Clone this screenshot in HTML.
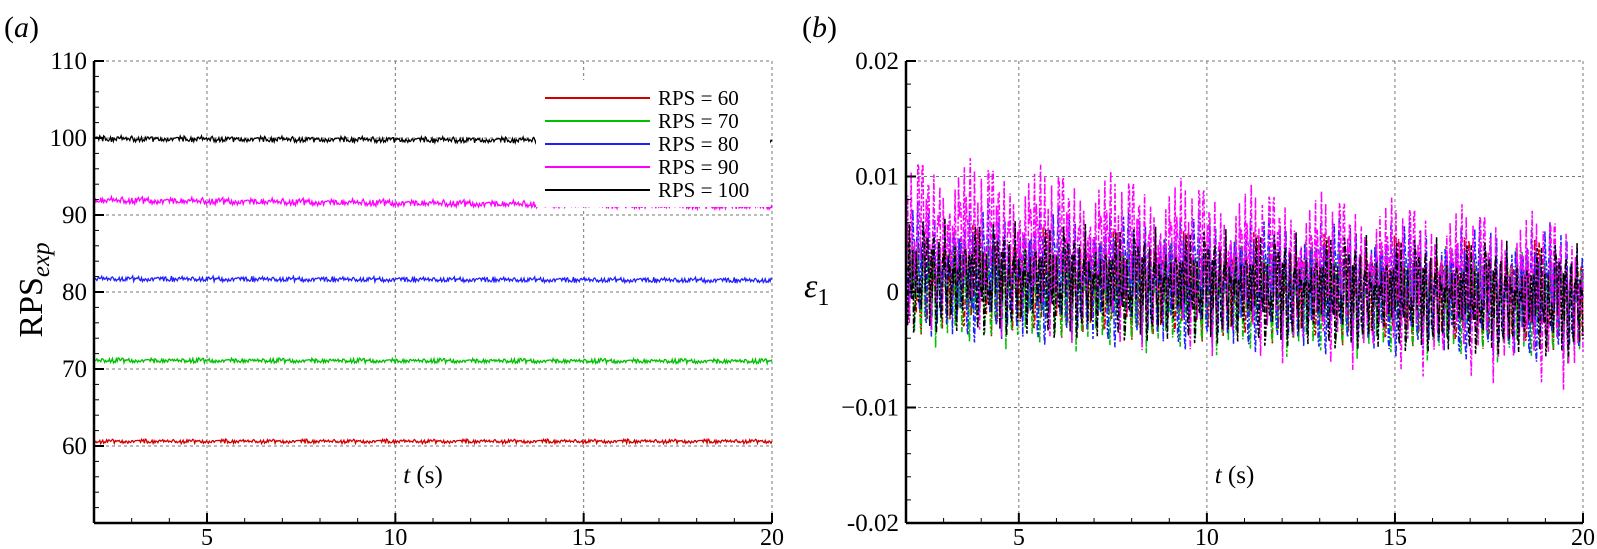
<!DOCTYPE html>
<html><head><meta charset="utf-8"><style>
body{margin:0;background:#fff;}
svg{display:block;}
svg text{font-family:"Liberation Serif","Times New Roman",serif;}
</style></head><body>
<svg id="c" width="1597" height="549" font-family="Liberation Serif, serif"></svg>
<script>
const tTicks=[5,10,15,20];
const leftYTicks=[60,70,80,90,100,110];
const rightYTicks=[-0.02,-0.01,0,0.01,0.02];
const rightYLabels=["-0.02","\u22120.01","0","0.01","0.02"];
const rpsNames=["RPS = 60","RPS = 70","RPS = 80","RPS = 90","RPS = 100"];
const colors=["#d00000","#00c000","#2020ff","#ff00ff","#000000"];
const rpsStart=[60.6,71.1,81.7,91.9,99.9];
const rpsEnd=[60.6,71.0,81.5,91.1,99.6];
const rpsAmp=[0.35,0.4,0.45,0.6,0.5];
const epsStart=[0.001,0.0005,0.0015,0.0045,0.0012];
const epsEnd=[-0.0005,-0.001,-0.0005,-0.001,-0.001];
const epsAmp=[0.0045,0.0045,0.0055,0.0065,0.0045];
const noise=[0.3,-0.8,0.5,0.1,-0.4,0.9,-0.2,-0.7,0.6,0.2,-0.5,0.8,-0.9,0.4,0.0,-0.3,0.7,-0.6,0.2,0.5,-0.1,-0.8,0.9,-0.4,0.3,0.6,-0.7,0.1,-0.2,0.8,-0.5,0.4,-0.9,0.2,0.7,-0.3,0.0,0.5,-0.6,0.9,-0.1,-0.4,0.6,0.3,-0.8,0.1,0.7,-0.5,0.2,-0.9,0.8,-0.2,0.4,-0.6,0.5,0.0,-0.3,0.9,-0.7,0.3,-0.1,0.6,-0.4,0.8,-0.8,0.2,0.5,-0.5,0.1,0.7,-0.9,0.4,-0.2,0.6,-0.6,0.3,0.9,-0.3,0.0,-0.7,0.45,-0.25,0.85];
const NS="http://www.w3.org/2000/svg";
const svg=document.getElementById('c');
function el(tag,attrs,parent){const e=document.createElementNS(NS,tag);for(const k in attrs)e.setAttribute(k,attrs[k]);if(tag==='text')e.setAttribute('font-family','Liberation Serif, serif');(parent||svg).appendChild(e);return e;}
const T0=2,T1=20,TOP=61,BOT=523;
function panel(L,R,ymin,ymax,yTicks,name){
  const g=el('g',{});
  
  
  const xs=t=>L+(t-T0)/(T1-T0)*(R-L);
  const ys=v=>BOT-(v-ymin)/(ymax-ymin)*(BOT-TOP);
  tTicks.forEach(t=>{const l=el('line',{x1:xs(t),x2:xs(t),y1:TOP,y2:BOT,stroke:'#777','stroke-width':1,'stroke-dasharray':'3,3'},g);});
  yTicks.forEach(v=>{const l=el('line',{x1:L,x2:R,y1:ys(v),y2:ys(v),stroke:'#777','stroke-width':1,'stroke-dasharray':'3,3'},g);});
  return {g,xs,ys};
}
function axes(p,L,R,ymin,ymax,yTicks,yLabels,minorY){
  const g=p.g;
  el('line',{x1:L,x2:L,y1:TOP,y2:BOT,stroke:'#000','stroke-width':2.5},g);
  el('line',{x1:L,x2:R,y1:BOT,y2:BOT,stroke:'#000','stroke-width':2.5},g);
  for(let t=3;t<=20;t++){const major=t%5==0;el('line',{x1:p.xs(t),x2:p.xs(t),y1:BOT,y2:BOT-(major?10:5),stroke:'#000','stroke-width':major?2:1},g);}
  for(let v=ymin+minorY;v<=ymax+1e-9;v+=minorY){const major=yTicks.some(y=>Math.abs(y-v)<minorY/10);el('line',{x1:L,x2:L+(major?10:5),y1:p.ys(v),y2:p.ys(v),stroke:'#000','stroke-width':major?2:1},g);}
  tTicks.forEach(t=>{const s=el('text',{x:p.xs(t),y:BOT+22,'font-size':24,'text-anchor':'middle'},g);s.textContent=t;});
  yTicks.forEach((v,i)=>{const s=el('text',{x:L-7,y:p.ys(v)+8,'font-size':25,'text-anchor':'end'},g);s.textContent=yLabels[i];});
  const xt=el('text',{x:(L+R)/2-10,y:483,'font-size':25,'text-anchor':'middle'},g);
  xt.innerHTML='<tspan font-style="italic">t</tspan> (s)';
  
  
}
// Panel a
const LA=94,RA=772;
const pa=panel(LA,RA,50,110,leftYTicks,'panel-a');
const NPTS=700;
rpsStart.forEach((s,i)=>{
  let d='';
  for(let k=0;k<=NPTS;k++){
    const t=T0+(T1-T0)*k/NPTS;
    const v=s+(rpsEnd[i]-s)*k/NPTS+rpsAmp[i]*noise[(k*7+i*13)%noise.length]*(0.5+0.5*Math.abs(noise[(k*3+i)%noise.length]));
    d+=(k?'L':'M')+pa.xs(t).toFixed(1)+','+pa.ys(v).toFixed(1);
  }
  const p=el('path',{d:d,fill:'none',stroke:colors[i],'stroke-width':1.3},pa.g);
  
  
});
const lg=el('g',{},pa.g);


el('rect',{x:536,y:80,width:234,height:127,fill:'#fff'},lg);
rpsNames.forEach((n,i)=>{
  const y=98+i*23;
  const ln=el('line',{x1:545,x2:650,y1:y,y2:y,stroke:colors[i],'stroke-width':2},lg);
  
  
  const tx=el('text',{x:658,y:y+7,'font-size':21},lg);
  tx.textContent=n;
  
  
});
axes(pa,LA,RA,50,110,leftYTicks,leftYTicks.map(String),2);
const ya=el('text',{x:42,y:290,'font-size':34,'text-anchor':'middle',transform:'rotate(-90 42 290)'});
ya.innerHTML='RPS<tspan font-style="italic" font-size="25" dy="7">exp</tspan>';


const la=el('text',{x:4,y:37,'font-size':30});
la.innerHTML='(<tspan font-style="italic">a</tspan>)';


// Panel b
const LB=906,RB=1583;
const pb=panel(LB,RB,-0.02,0.02,rightYTicks,'panel-b');
const NB=800;
epsStart.forEach((s,i)=>{
  let d='';
  for(let k=0;k<=NB;k++){
    const t=T0+(T1-T0)*k/NB;
    const n=noise[(k*11+i*17)%noise.length];
    const sp=n*Math.abs(noise[(k*5+i*3)%noise.length])*1.3;
    const v=s+(epsEnd[i]-s)*k/NB+epsAmp[i]*(0.6*n+0.6*sp);
    d+=(k?'L':'M')+pb.xs(t).toFixed(1)+','+pb.ys(v).toFixed(1);
  }
  const p=el('path',{d:d,fill:'none',stroke:colors[i],'stroke-width':1.5,'stroke-dasharray':'6,2,2,2'},pb.g);
  
  
});
axes(pb,LB,RB,-0.02,0.02,rightYTicks,rightYLabels,0.002);
const yb=el('text',{x:804,y:297,'font-size':34,'font-style':'italic'});
yb.innerHTML='ε<tspan font-style="normal" font-size="24" dy="8">1</tspan>';


const lb=el('text',{x:802,y:37,'font-size':30});
lb.innerHTML='(<tspan font-style="italic">b</tspan>)';


</script>
</body></html>
